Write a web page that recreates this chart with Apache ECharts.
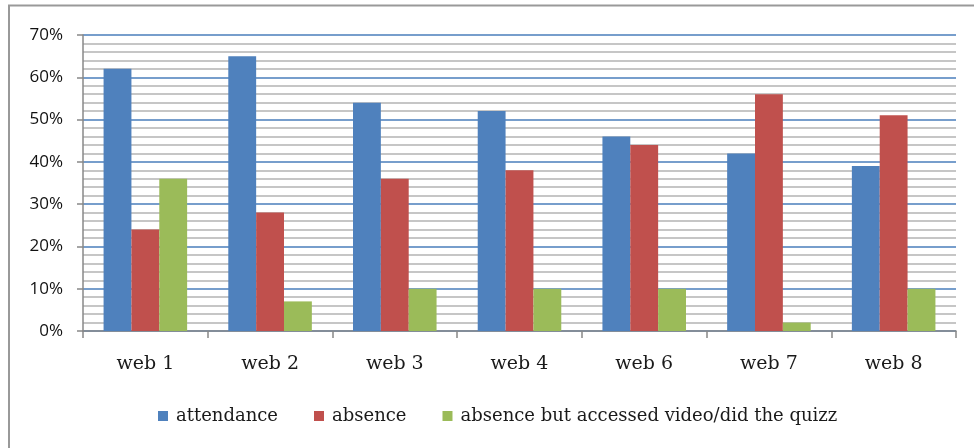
<!DOCTYPE html>
<html><head><meta charset="utf-8">
<script src="https://cdn.jsdelivr.net/npm/echarts@6/dist/echarts.min.js"></script>
<style>html,body{margin:0;padding:0;background:#fff}#c{width:974px;height:448px}</style>
</head><body><div id="c"></div>
<script>
const categories = ['web 1','web 2','web 3','web 4','web 6','web 7','web 8'];
const attendance = [62,65,54,52,46,42,39];
const absence = [24,28,36,38,44,56,51];
const absenceAccessed = [36,7,10,10,10,2,10];
const seriesNames = ['attendance','absence','absence but accessed video/did the quizz'];

const chart = echarts.init(document.getElementById('c'));
const serif = '"DejaVu Serif","Liberation Serif",serif';
const sans = '"Open Sans","Liberation Sans",sans-serif';
function bar(name, data, color){
  return {name, type:'bar', data, barGap:'0%', barCategoryGap:'33%',
    itemStyle:{color}, emphasis:{disabled:true}};
}
chart.setOption({
  animation:false,
  graphic:[{type:'rect', shape:{x:9,y:5.5,width:980,height:460},
    style:{fill:'none', stroke:'#999', lineWidth:2}, silent:true}],
  grid:{left:83, right:18, top:35, bottom:117},
  legend:{bottom:18, left:153, itemWidth:10, itemHeight:10, itemGap:36,
    icon:'rect', textStyle:{fontFamily:serif, fontSize:18, color:'#1a1a1a', padding:[0,0,0,3]},
    data:seriesNames},
  xAxis:{type:'category', data:categories,
    axisLine:{lineStyle:{color:'#888', width:1.5}},
    axisTick:{show:true, length:7, lineStyle:{color:'#888', width:1.5}},
    axisLabel:{fontFamily:serif, fontSize:19, color:'#1a1a1a', margin:24}},
  yAxis:{type:'value', min:0, max:70, interval:10,
    axisLine:{show:true, lineStyle:{color:'#888', width:1.5}},
    axisTick:{show:true, length:6, lineStyle:{color:'#888', width:1.5}},
    axisLabel:{formatter:'{value}%', fontFamily:sans, fontSize:17, color:'#111', margin:20},
    splitLine:{lineStyle:{color:'#4a7ebb', width:1.5}},
    minorTick:{show:false, splitNumber:5},
    minorSplitLine:{show:true, lineStyle:{color:'#b4b4b4', width:1.5}}},
  series:[bar(seriesNames[0], attendance, '#4f81bd'),
          bar(seriesNames[1], absence, '#c0504d'),
          bar(seriesNames[2], absenceAccessed, '#9bbb59')]
});
</script></body></html>
